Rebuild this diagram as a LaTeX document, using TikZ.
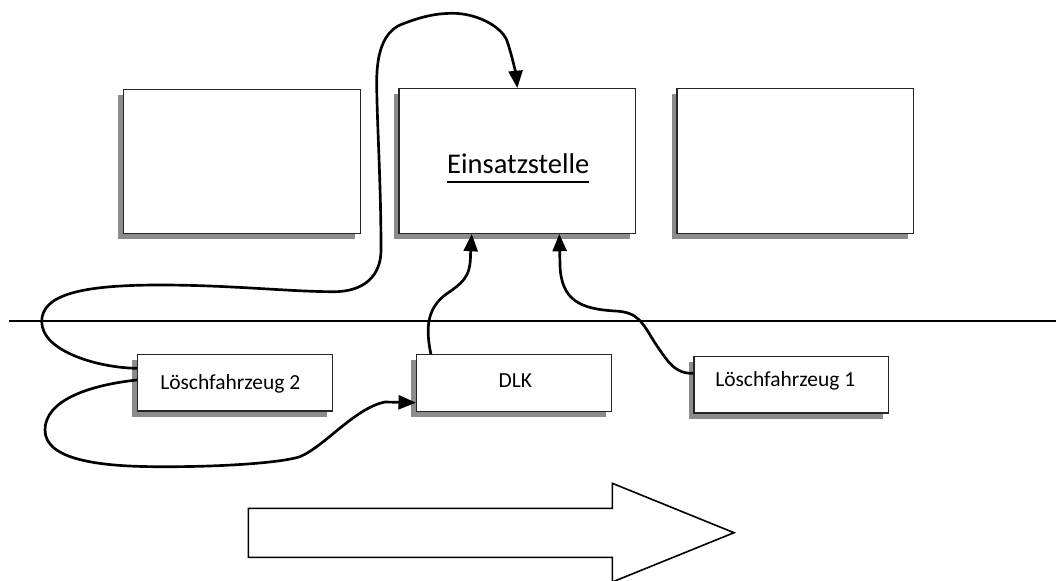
\documentclass[tikz,border=0pt]{standalone}
\usepackage{fontspec}
\setmainfont{Carlito}
\usetikzlibrary{arrows.meta,calc,shadows}
\newcommand\ulword[1]{\vtop{\hbox{#1}\kern5.5pt\hrule height 1.5pt}}
\begin{document}
\begin{tikzpicture}[x=0.75pt,y=-0.75pt,
  bigbox/.style={draw=black!85, line width=0.9pt, fill=white, minimum width=177.5pt, minimum height=108.5pt, inner sep=0pt,
    drop shadow={shadow xshift=-4.1pt, shadow yshift=-4.1pt, fill=black!45, opacity=1}},
  smallbox/.style={bigbox, minimum width=146pt, minimum height=42.5pt},
  lbl/.style={inner sep=0pt, anchor=base west, font=\fontsize{16.1pt}{19pt}\selectfont},
  wire/.style={line width=2pt},
  conn/.style={wire, -{Triangle[length=13pt,width=10.5pt]}},
  bigarrow/.style={line width=1.2pt, fill=white, line join=miter}]
\useasboundingbox (0,0) rectangle (1056,581);

% boxes
\node[bigbox] (boxL) at (242.2,161.5) {};
\node[bigbox] (boxM) at (517.3,161) {};
\node[bigbox] (boxR) at (795.3,161) {};
\node[smallbox] (LF2) at (235,382.7) {};
\node[smallbox] (DLK) at (513.8,383) {};
\node[smallbox] (LF1) at (791.3,384.7) {};

% texts
\node[inner sep=0pt, anchor=base, font=\fontsize{21.4pt}{25pt}\selectfont] (tE) at (518.3,173.3) {\ulword{Einsatzstelle}};
\node[lbl] (tLF2) at (160,389.3) {Löschfahrzeug 2};
\node[lbl, anchor=base] (tDLK) at (515.3,387.7) {DLK};
\node[lbl] (tLF1) at (715,386.7) {Löschfahrzeug 1};

% horizontal line
\coordinate (hA) at (9,321);
\coordinate (hB) at (1056,321);
\draw[line width=2.2pt] (hA) -- (hB);

% LF2 -> Einsatzstelle (over the top)
\draw[conn] ($(LF2.west)+(0,-14.4)$) .. controls (100,368) and (42,352) .. (41.7,321.7)
 .. controls (41.7,295) and (80,285) .. (160,285)
 .. controls (230,285) and (290,291.7) .. (333,291.7)
 .. controls (365,292) and (381,275) .. (381,250)
 .. controls (381,180) and (376.7,120) .. (376.7,80)
 .. controls (377,50) and (385,32) .. (400,25)
 .. controls (420,17) and (435,13.3) .. (453,13.3)
 .. controls (475,13.3) and (500,25) .. (506.7,40)
 .. controls (512,55) and (516,75) .. (boxM.north);

% LF2 -> DLK
\draw[conn] ($(LF2.west)+(0,-2.7)$) .. controls (90,385) and (45,400) .. (45,430)
 .. controls (45,460) and (100,466.7) .. (160,466.7)
 .. controls (220,467) and (280,463) .. (300,456.7)
 .. controls (325,446) and (355,408) .. (385,402)
 -- ($(DLK.west)+(0,19.7)$);

% DLK -> Einsatzstelle
\draw[conn] ($(DLK.north west)+(15,0)$) .. controls (426,330) and (426,310) .. (445,295)
 .. controls (462,283) and (470.5,278) .. (470.5,255) -- ($(boxM.south)+(-45.6,0)$);

% LF1 -> Einsatzstelle
\draw[conn] ($(LF1.west)+(0,-11.4)$) .. controls (675,374) and (668,362) .. (655,343)
 .. controls (642,322) and (638,312) .. (615,311)
 .. controls (580,309) and (561,300) .. (560,265) -- ($(boxM.south)+(42,0)$);

% big direction arrow
\draw[bigarrow] (248.3,508.3) -- (612.3,508.3) -- (612.3,483.3) -- (734,532.7) -- (612.3,582) -- (612.3,557.3) -- (248.3,557.3) -- cycle;
\end{tikzpicture}
\end{document}
